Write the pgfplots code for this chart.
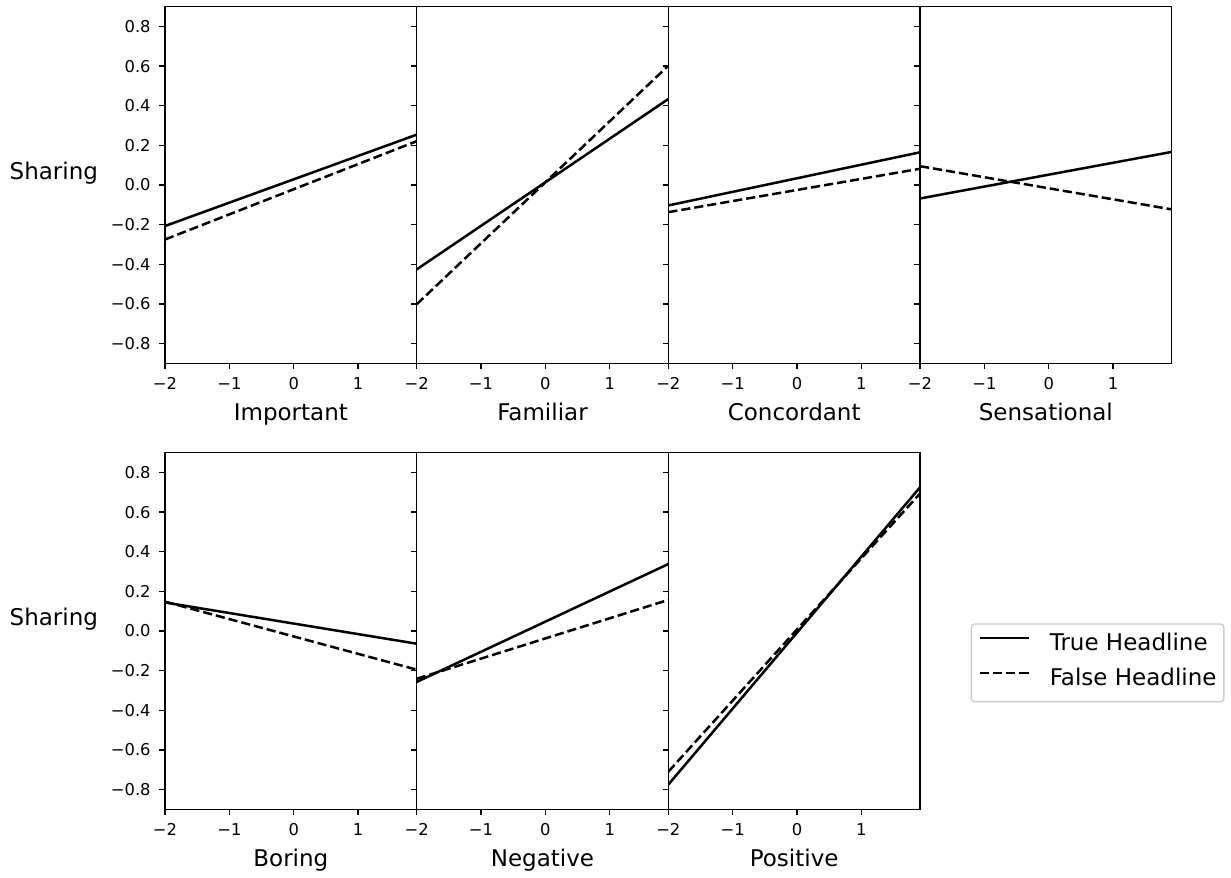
\documentclass[border=0pt]{standalone}
\usepackage{fontspec}
\setmainfont{DejaVu Sans}
\usepackage{pgfplots}
\pgfplotsset{compat=1.18}
\pgfplotsset{
  panel/.style={
    scale only axis, width=151pt, height=214pt,
    anchor=north west,
    xmin=-2, xmax=1.91, ymin=-0.9, ymax=0.9,
    xtick={-2,-1,0,1}, xticklabels={−2,−1,0,1},
    ytick={-0.8,-0.6,-0.4,-0.2,0,0.2,0.4,0.6,0.8},
    tick align=outside, xtick pos=bottom, ytick pos=left,
    major tick length=3.44pt,
    tick style={line width=0.8pt, black},
    axis line style={line width=0.8pt},
    ticklabel style={font=\fontsize{9.8}{11}\selectfont, inner sep=0pt},
    xticklabel style={anchor=base, yshift=-12pt},
    yticklabel style={anchor=east, xshift=-5pt},
    every axis x label/.style={at={(axis description cs:0.5,0)}, anchor=base, yshift=-34pt, inner sep=0pt, font=\fontsize{13.8}{16}\selectfont},
    every axis y label/.style={at={(axis description cs:0,0.5)}, anchor=base east, xshift=-40pt, yshift=3.6pt, inner sep=0pt, font=\fontsize{13.8}{16}\selectfont},
  },
  first/.style={yticklabels={−0.8,−0.6,−0.4,−0.2,0.0,0.2,0.4,0.6,0.8}, ylabel={Sharing}},
  inner/.style={yticklabels={}},
  tr/.style={black, line width=1.5pt},
  fa/.style={black, line width=1.5pt, dash pattern=on 5.5pt off 2.4pt},
}
\begin{document}
\begin{tikzpicture}
\useasboundingbox (0,0) rectangle (738.6pt,-526.8pt);
% ---- top row
\begin{axis}[panel, first, at={(99pt,-4pt)}, xlabel={Important}]
\addplot[tr] coordinates {(-2,-0.207) (1.91,0.254)};
\addplot[fa] coordinates {(-2,-0.275) (1.91,0.221)};
\end{axis}
\begin{axis}[panel, inner, at={(250pt,-4pt)}, xlabel={Familiar}]
\addplot[tr] coordinates {(-2,-0.426) (1.91,0.434)};
\addplot[fa] coordinates {(-2,-0.602) (1.91,0.602)};
\end{axis}
\begin{axis}[panel, inner, at={(401pt,-4pt)}, xlabel={Concordant}]
\addplot[tr] coordinates {(-2,-0.103) (1.91,0.165)};
\addplot[fa] coordinates {(-2,-0.137) (1.91,0.082)};
\end{axis}
\begin{axis}[panel, inner, at={(552pt,-4pt)}, xlabel={Sensational}]
\addplot[tr] coordinates {(-2,-0.068) (1.91,0.167)};
\addplot[fa] coordinates {(-2,0.095) (1.91,-0.123)};
\end{axis}
% ---- bottom row
\begin{axis}[panel, first, at={(99pt,-271.6pt)}, xlabel={Boring}]
\addplot[tr] coordinates {(-2,0.144) (1.91,-0.064)};
\addplot[fa] coordinates {(-2,0.148) (1.91,-0.195)};
\end{axis}
\begin{axis}[panel, inner, at={(250pt,-271.6pt)}, xlabel={Negative}]
\addplot[tr] coordinates {(-2,-0.257) (1.91,0.338)};
\addplot[fa] coordinates {(-2,-0.241) (1.91,0.157)};
\end{axis}
\begin{axis}[panel, inner, at={(401pt,-271.6pt)}, xlabel={Positive},
  legend cell align=left,
  legend image code/.code={\draw[#1] (0pt,4.4pt) -- (29.4pt,4.4pt);},
  legend style={at={(1,0.5216)}, anchor=north west, xshift=30.4pt,
    draw=black!20, line width=0.8pt, rounded corners=2pt,
    font=\fontsize{13.8}{16}\selectfont,
    inner xsep=4.4pt, inner ysep=6.3pt, row sep=7.9pt,
    nodes={inner sep=0pt, text height=9.8pt, text depth=3.3pt},
    /tikz/every odd column/.append style={column sep=11.8pt}}]
\addplot[tr] coordinates {(-2,-0.775) (1.91,0.725)};
\addlegendentry{True Headline}
\addplot[fa] coordinates {(-2,-0.71) (1.91,0.694)};
\addlegendentry{False Headline}
\end{axis}
\end{tikzpicture}
\end{document}
